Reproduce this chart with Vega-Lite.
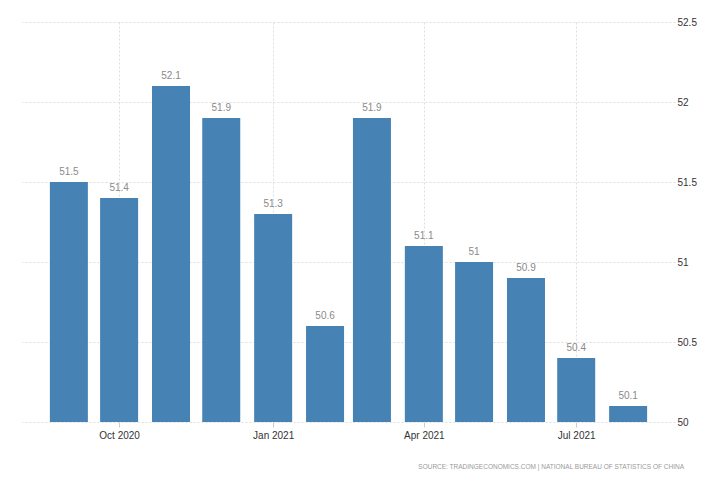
{
  "$schema": "https://vega.github.io/schema/vega-lite/v6.json",
  "width": 653,
  "height": 400,
  "autosize": {"type": "none"},
  "padding": {"left": 22, "top": 22, "right": 53, "bottom": 63},
  "background": "white",
  "config": {
    "view": {"stroke": null},
    "font": "Liberation Sans"
  },
  "title": {
    "text": "SOURCE: TRADINGECONOMICS.COM | NATIONAL BUREAU OF STATISTICS OF CHINA",
    "orient": "bottom",
    "anchor": "end",
    "frame": "group",
    "dx": 9,
    "offset": 24,
    "fontSize": 6.5,
    "fontWeight": "normal",
    "color": "#9a9a9a",
    "font": "Liberation Sans"
  },
  "data": {
    "values": [
      {"date": "2020-09-01", "value": 51.5},
      {"date": "2020-10-01", "value": 51.4},
      {"date": "2020-11-01", "value": 52.1},
      {"date": "2020-12-01", "value": 51.9},
      {"date": "2021-01-01", "value": 51.3},
      {"date": "2021-02-01", "value": 50.6},
      {"date": "2021-03-01", "value": 51.9},
      {"date": "2021-04-01", "value": 51.1},
      {"date": "2021-05-01", "value": 51.0},
      {"date": "2021-06-01", "value": 50.9},
      {"date": "2021-07-01", "value": 50.4},
      {"date": "2021-08-01", "value": 50.1}
    ]
  },
  "encoding": {
    "x": {
      "field": "date",
      "type": "temporal",
      "scale": {
        "type": "utc",
        "padding": 0,
        "domain": [
          {"year": 2020, "month": 8, "date": 4, "utc": true},
          {"year": 2021, "month": 8, "date": 29, "utc": true}
        ]
      },
      "axis": {
        "title": null,
        "values": [
          {"year": 2020, "month": 10, "date": 1, "utc": true},
          {"year": 2021, "month": 1, "date": 1, "utc": true},
          {"year": 2021, "month": 4, "date": 1, "utc": true},
          {"year": 2021, "month": 7, "date": 1, "utc": true}
        ],
        "labelExpr": "utcFormat(datum.value, '%b %Y')",
        "domain": false,
        "grid": true,
        "gridColor": "#dedede",
        "gridDash": [2, 2],
        "ticks": true,
        "tickSize": 5,
        "tickColor": "#cccccc",
        "labelFontSize": 10,
        "labelColor": "#333333",
        "labelPadding": 3
      }
    },
    "y": {
      "field": "value",
      "type": "quantitative",
      "scale": {"domain": [50, 52.5], "zero": false, "nice": false},
      "axis": {
        "title": null,
        "orient": "right",
        "values": [50, 50.5, 51, 51.5, 52, 52.5],
        "format": "~g",
        "domain": false,
        "ticks": false,
        "grid": true,
        "gridColor": "#dedede",
        "gridDash": [2, 2],
        "labelPadding": 2,
        "labelFontSize": 10,
        "labelColor": "#333333"
      }
    }
  },
  "layer": [
    {
      "mark": {"type": "bar", "size": 38, "color": "#4682b4"},
      "encoding": {"y2": {"datum": 50}}
    },
    {
      "mark": {"type": "text", "baseline": "bottom", "dy": -5, "fontSize": 10, "color": "#8a8a8a"},
      "encoding": {"text": {"field": "value", "type": "quantitative", "format": "~g"}}
    }
  ]
}
